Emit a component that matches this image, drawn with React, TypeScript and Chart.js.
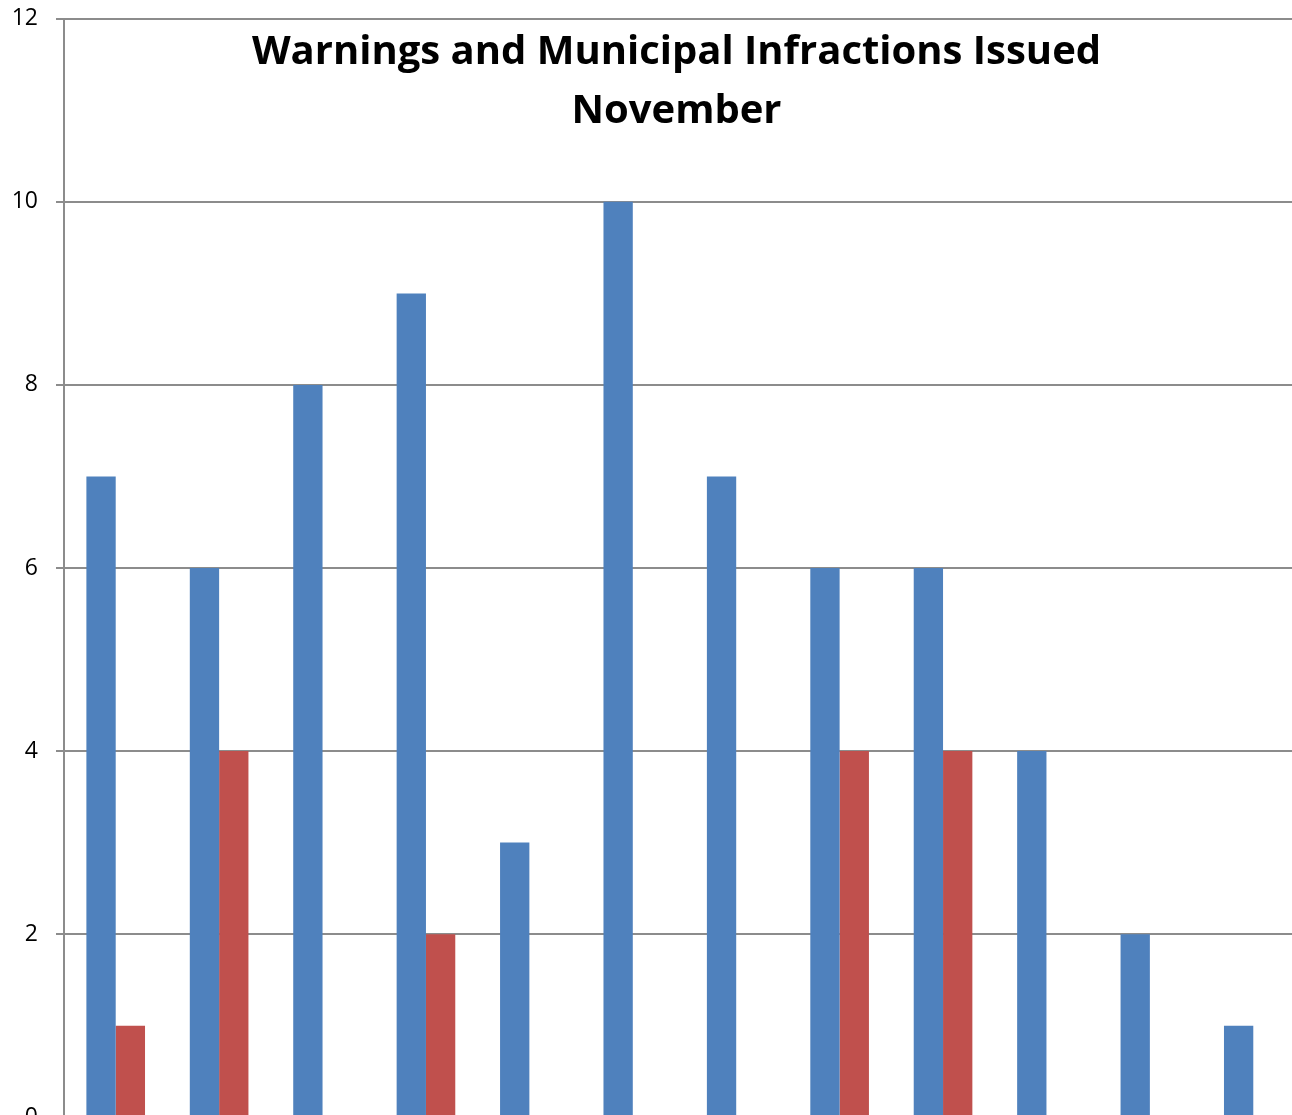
import React, { useEffect, useRef } from 'react';
import { Chart, registerables } from 'chart.js';

Chart.register(...registerables);

const categories = ['1', '2', '3', '4', '5', '6', '7', '8', '9', '10', '11', '12'];
const warnings = [7, 6, 8, 9, 3, 10, 7, 6, 6, 4, 2, 1];
const infractions = [1, 4, 0, 2, 0, 0, 0, 4, 4, 0, 0, 0];
const yTicks = [0, 2, 4, 6, 8, 10, 12];
const titleLines = ['Warnings and Municipal Infractions Issued', 'November'];

export default function App() {
  const canvasRef = useRef<HTMLCanvasElement | null>(null);

  useEffect(() => {
    document.body.style.margin = '0';
    const canvas = canvasRef.current;
    if (!canvas) return;

    const titlePlugin = {
      id: 'overlayTitle',
      afterDraw(chart: any) {
        const ctx = chart.ctx;
        ctx.save();
        ctx.fillStyle = '#000';
        ctx.textAlign = 'center';
        ctx.textBaseline = 'alphabetic';
        ctx.font = 'bold 40px "Open Sans"';
        const top = chart.chartArea.top;
        ctx.fillText(titleLines[0], 676.5, top + 45);
        ctx.fillText(titleLines[1], 676.5, top + 104);
        ctx.restore();
      },
    };

    const chart = new Chart(canvas, {
      type: 'bar',
      data: {
        labels: categories,
        datasets: [
          {
            label: 'Warnings',
            data: warnings,
            backgroundColor: '#4F81BD',
            categoryPercentage: 0.567,
            barPercentage: 1,
          },
          {
            label: 'Municipal Infractions',
            data: infractions,
            backgroundColor: '#C0504D',
            categoryPercentage: 0.567,
            barPercentage: 1,
          },
        ],
      },
      options: {
        responsive: false,
        animation: false,
        layout: { padding: { left: 0, right: 0, top: 4, bottom: 23 } },
        plugins: {
          legend: { display: false },
          title: { display: false },
          tooltip: { enabled: false },
        },
        scales: {
          x: {
            display: false,
            offset: true,
          },
          y: {
            min: 0,
            max: 12,
            afterFit(scale: any) {
              scale.width = 64;
            },
            afterBuildTicks(scale: any) {
              scale.ticks = yTicks.map((v) => ({ value: v }));
            },
            ticks: {
              color: '#000',
              font: { family: 'Open Sans', size: 23 },
              padding: 18,
            },
            grid: {
              color: '#8c8c8c',
              lineWidth: 2,
              tickLength: 8,
              drawTicks: true,
            },
            border: { display: true, color: '#8c8c8c', width: 2 },
          },
        },
      },
      plugins: [titlePlugin],
    });

    return () => chart.destroy();
  }, []);

  return (
    <div style={{ width: 1292, height: 1115, overflow: 'hidden', position: 'relative', background: '#fff' }}>
      <canvas
        ref={canvasRef}
        width={1305}
        height={1162}
        style={{ display: 'block', position: 'absolute', left: 0, top: -13 }}
      />
    </div>
  );
}
